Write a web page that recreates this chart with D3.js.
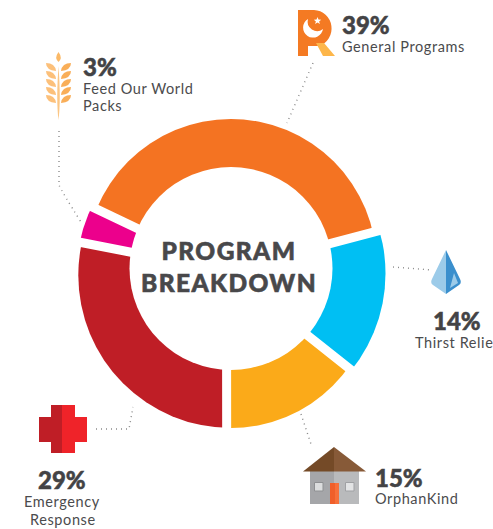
<!DOCTYPE html>
<meta charset="utf-8">
<style>
  body { margin: 0; background: #fff; overflow: hidden; }
  text { font-family: Lato, sans-serif; fill: #434345; }
  .pct { font-size: 24px; font-weight: 900; stroke: #434345; stroke-width: 0.5; }
  .lbl { font-size: 14.5px; letter-spacing: 0.6px; font-weight: 400; fill: #4b4b4d; }
  .title { font-size: 24.5px; font-weight: 900; letter-spacing: 1.4px; text-anchor: middle; fill: #48484a; stroke: #48484a; stroke-width: 0.6; }
  .lead { fill: none; stroke: #8a8a8a; stroke-width: 1.4; stroke-dasharray: 1 4; }
</style>
<svg width="493" height="529"></svg>
<script src="https://d3js.org/d3.v7.min.js"></script>
<script>
var categories = ["General Programs", "Thirst Relief", "OrphanKind", "Emergency Response", "Feed Our World Packs"];
// printed labels
var shares = [39, 14, 15, 29, 3];
// what the drawn arcs actually measure, the artwork is not exact
var arcShares = [38.8, 14.8, 14.3, 28.1, 4];
var colors = ["#f47322", "#00bff3", "#fbaa19", "#bf1e26", "#ec008c"];

// every slice has its own slightly off-centre rim in the original
var rimX = [231, 231, 231, 231, 231];
var rimY = [264.5, 273.5, 283.9, 275.3, 273.5];
var rimR = [145.5, 154.5, 144, 152.7, 154.5];

var svg = d3.select("svg");
var defs = svg.append("defs");

defs.selectAll("clipPath")
  .data(arcShares)
  .enter()
  .append("clipPath")
  .attr("id", function(d, i) { return "rim" + i; })
  .append("circle")
  .attr("cx", function(d, i) { return rimX[i]; })
  .attr("cy", function(d, i) { return rimY[i]; })
  .attr("r", function(d, i) { return rimR[i]; });

var pie = d3.pie().sort(null)
  .startAngle(-64.5 * Math.PI / 180)
  .endAngle(295.5 * Math.PI / 180);

var arc = d3.arc()
  .innerRadius(60)
  .outerRadius(200)
  .padAngle(9 / 155)
  .padRadius(155);

// clip sits on an untransformed wrapper so the rim stays in page coordinates
svg.selectAll(".slice")
  .data(pie(arcShares))
  .enter()
  .append("g")
  .attr("class", "slice")
  .attr("clip-path", function(d, i) { return "url(#rim" + i + ")"; })
  .append("path")
  .attr("transform", "translate(226.5,271)")
  .attr("d", arc)
  .attr("fill", function(d, i) { return colors[i]; });

svg.append("circle").attr("cx", 231).attr("cy", 268.5).attr("r", 101.5).attr("fill", "#fff");

// title
svg.append("text").attr("class", "title").attr("x", 229).attr("y", 260).text("PROGRAM");
svg.append("text").attr("class", "title").attr("x", 229).attr("y", 292).text("BREAKDOWN");

// leaders
var leaders = [
  "M313,63 L287,123",
  "M59,131 L59,185 Q62,192 81,222",
  "M393,267 L432,270",
  "M301,414 L312,447",
  "M96,429 L129,429 L133,407"
];
svg.selectAll(".lead").data(leaders).enter().append("path").attr("class", "lead").attr("d", function(d) { return d; });

// labels
var labels = [
  { t: shares[0] + "%", c: "pct", x: 342, y: 34 },
  { t: categories[0], c: "lbl", x: 342, y: 52 },
  { t: shares[4] + "%", c: "pct", x: 83, y: 76 },
  { t: "Feed Our World", c: "lbl", x: 83, y: 94 },
  { t: "Packs", c: "lbl", x: 83, y: 111 },
  { t: shares[1] + "%", c: "pct", x: 433, y: 330 },
  { t: categories[1], c: "lbl", x: 415, y: 348 },
  { t: shares[2] + "%", c: "pct", x: 375, y: 487 },
  { t: categories[2], c: "lbl", x: 375, y: 504 },
  { t: shares[3] + "%", c: "pct", x: 38, y: 489 },
  { t: "Emergency", c: "lbl", x: 24, y: 507 },
  { t: "Response", c: "lbl", x: 30, y: 525 }
];
svg.selectAll(".t").data(labels).enter().append("text")
  .attr("class", function(d) { return d.c; })
  .attr("x", function(d) { return d.x; })
  .attr("y", function(d) { return d.y; })
  .text(function(d) { return d.t; });

// icons, hand drawn
function shape(d, fill) { svg.append("path").attr("d", d).attr("fill", fill); }

// R icon
shape("M298,10 H314 A18.5,18.5 0 0 1 319,46 H308 V56 H298 Z", "#f47a23");
shape("M316,43 H324 L335,56 H323 Z", "#fdb64a");
shape("M308,19 A10,10 0 1 0 323,29 A9.5,9.5 0 0 1 308,19 Z", "#fff");
shape("M317.5,17 l1,2.6 2.7,0.1 -2.1,1.7 0.8,2.7 -2.4,-1.5 -2.4,1.5 0.8,-2.7 -2.1,-1.7 2.7,-0.1 Z", "#fff");

// wheat
shape("M58.5,52 Q63,58 58.5,62 Q54,58 58.5,52 Z", "#fbb967");
shape("M58.5,66 Q61,100 58.5,120 Q56,100 58.5,66 Z", "#fbc684");
[63, 71, 79, 87, 95].forEach(function(y) {
  shape("M56," + (y + 8) + " Q46," + (y + 7) + " 46," + y + " Q55," + y + " 56," + (y + 8) + " Z", "#fcc07a");
  shape("M61," + (y + 8) + " Q71," + (y + 7) + " 71," + y + " Q62," + y + " 61," + (y + 8) + " Z", "#f9ae58");
});

// drop
shape("M446,250 L432,279 Q430,283 433,285 L446,294 Z", "#9ccbe9");
shape("M446,250 L460,279 Q462,283 459,285 L446,294 Z", "#3a8fcd");
shape("M454,273 L458,283 L450,288 Z", "#9ccbe9");

// house
shape("M334,471 H359 V504 H334 Z", "#b9babc");
shape("M310,471 H334 V504 H310 Z", "#a5a6a9");
shape("M334,447 L303,471.5 H334 Z", "#744a27");
shape("M334,447 L366,471.5 H334 Z", "#875a38");
shape("M330,483 H335 V504 H330 Z", "#f05f2a");
shape("M335,483 H339 V504 H335 Z", "#f7703a");
svg.append("path").attr("d", "M314.5,482.5 H323 V491 H314.5 Z").attr("fill", "#dcddde").attr("stroke", "#8f9093");
svg.append("path").attr("d", "M345.5,482.5 H354 V491 H345.5 Z").attr("fill", "#e3e4e5").attr("stroke", "#a0a1a4");

// cross
shape("M51,405 H62 V453 H51 V442 H39 V417 H51 Z", "#bf1e26");
shape("M62,405 H75 V417 H87 V442 H75 V453 H62 Z", "#ef2329");
</script>
